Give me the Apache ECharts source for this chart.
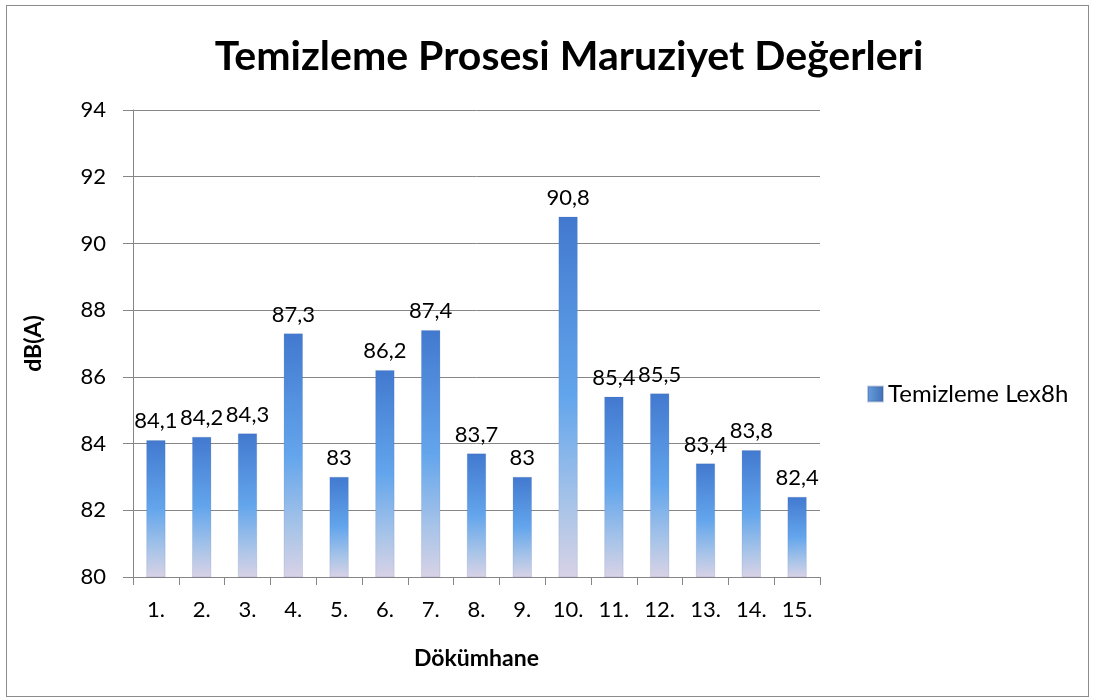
<!DOCTYPE html>
<html>
<head>
    <meta charset="UTF-8">
    <title>Temizleme Prosesi Maruziyet Değerleri</title>
    <script src="https://cdn.jsdelivr.net/npm/echarts@6/dist/echarts.min.js"></script>
    <style>
        body { margin: 0; background: #fff; }
        #frame { position: absolute; left: 6px; top: 5px; width: 1083px; height: 692px; border: 1px solid #8c8c8c; box-sizing: border-box; }
        #main { position: absolute; left: 0; top: 0; width: 1095px; height: 700px; }
    </style>
</head>
<body>
    <div id="frame"></div>
    <div id="main"></div>
    <script type="text/javascript">
        var categories = ['1.', '2.', '3.', '4.', '5.', '6.', '7.', '8.', '9.', '10.', '11.', '12.', '13.', '14.', '15.'];
        var lexValues = [84.1, 84.2, 84.3, 87.3, 83, 86.2, 87.4, 83.7, 83, 90.8, 85.4, 85.5, 83.4, 83.8, 82.4];
        var seriesName = 'Temizleme Lex8h';

        var myChart = echarts.init(document.getElementById('main'));
        var font = 'Lato, "Open Sans", sans-serif';

        // mavi -> lila geçiş (Excel stili)
        var barColor = new echarts.graphic.LinearGradient(0, 0, 0.15, 1, [
            { offset: 0, color: '#4279cf' },
            { offset: 0.5, color: '#63a5ec' },
            { offset: 0.8, color: '#a8c4e8' },
            { offset: 1, color: '#d8d2e6' }
        ]);
        var legendColor = new echarts.graphic.LinearGradient(0, 0, 1, 0, [
            { offset: 0, color: '#6a9fe0' },
            { offset: 1, color: '#3f6fb5' }
        ]);

        var option = {
            animation: false,
            title: {
                text: 'Temizleme Prosesi Maruziyet Değerleri',
                left: 564,
                textAlign: 'center',
                top: 31,
                textStyle: { fontFamily: font, fontSize: 41, fontWeight: 'bold', color: '#000' }
            },
            legend: {
                left: 862,
                top: 377,
                itemWidth: 15,
                itemHeight: 15,
                itemGap: 8,
                textStyle: { fontFamily: font, fontSize: 24, color: '#000' },
                data: [{ name: seriesName, icon: 'rect', itemStyle: { color: legendColor } }]
            },
            grid: { left: 133, top: 110, width: 687, height: 467 },
            xAxis: {
                type: 'category',
                data: categories,
                name: 'Dökümhane',
                nameLocation: 'middle',
                nameGap: 70,
                nameTextStyle: { fontFamily: font, fontSize: 23, fontWeight: 'bold', color: '#000' },
                axisLine: { lineStyle: { color: '#868686', width: 1 } },
                axisTick: { show: true, length: 8, lineStyle: { color: '#868686' } },
                axisLabel: { fontFamily: font, fontSize: 22, color: '#000', margin: 22 }
            },
            yAxis: {
                type: 'value',
                min: 80,
                max: 94,
                interval: 2,
                name: 'dB(A)',
                nameLocation: 'middle',
                nameGap: 88,
                nameRotate: 90,
                nameTextStyle: { fontFamily: font, fontSize: 23, fontWeight: 'bold', color: '#000' },
                axisLine: { show: true, lineStyle: { color: '#868686', width: 1 } },
                axisTick: { show: true, length: 10, lineStyle: { color: '#868686' } },
                splitLine: { lineStyle: { color: '#868686', width: 1 } },
                axisLabel: { fontFamily: font, fontSize: 22, color: '#000', margin: 27 }
            },
            series: [{
                name: seriesName,
                type: 'bar',
                data: lexValues,
                barWidth: 19,
                itemStyle: { color: barColor, borderColor: 'rgba(60,90,150,0.3)', borderWidth: 0.5 },
                label: {
                    show: true,
                    position: 'top',
                    distance: 8,
                    fontFamily: font,
                    fontSize: 22,
                    color: '#000',
                    formatter: function (p) { return String(p.value).replace('.', ','); }
                }
            }]
        };

        myChart.setOption(option);
    </script>
</body>
</html>
